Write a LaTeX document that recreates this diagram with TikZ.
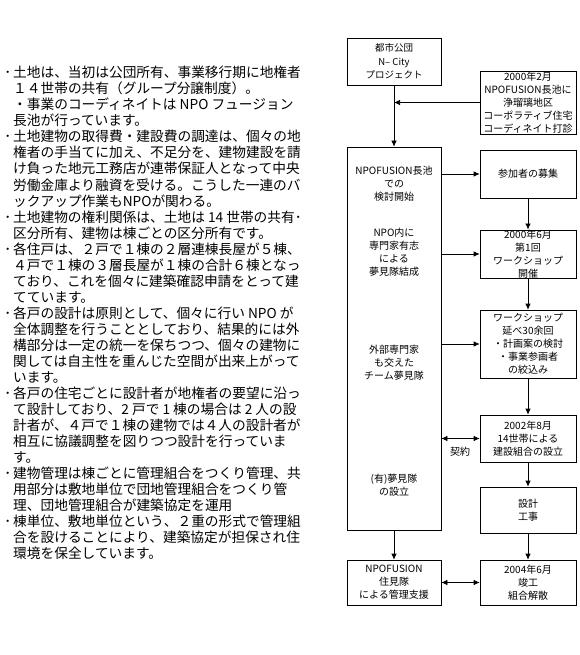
\documentclass[tikz,border=0pt]{standalone}
\usepackage{fontspec}
\setmainfont{Noto Sans CJK JP}
\usetikzlibrary{arrows.meta}
\newcommand\fs{\fontsize{10pt}{13pt}\selectfont}
\newcommand\fsa{\fontsize{9.5pt}{13.5pt}\selectfont}
\newcommand\ls{\fontsize{13.7pt}{16pt}\selectfont}
\newcommand\bl{\llap{･\hspace{2pt}}}
\tikzset{
  fbox/.style={draw, line width=0.7pt, inner sep=0pt, align=center, font=\fs},
  ftext/.style={inner sep=0pt, align=center, font=\fs},
  arr/.style={line width=0.7pt, -{Latex[length=6pt,width=5.5pt]}},
  darr/.style={line width=0.7pt, {Latex[length=6pt,width=5.5pt]}-{Latex[length=6pt,width=5.5pt]}},
  ltext/.style={anchor=base west, inner sep=0pt, font=\ls}
}
\begin{document}
\begin{tikzpicture}[x=1pt,y=-1pt]
\useasboundingbox (0,0) rectangle (580,655);
% left text
\foreach \t [count=\i] in {
{\bl 土地は、当初は公団所有、事業移行期に地権者},
{１４世帯の共有（グループ分譲制度）。},
{・事業のコーディネイトは NPO フュージョン},
{長池が行っています。},
{\bl 土地建物の取得費・建設費の調達は、個々の地},
{権者の手当てに加え、不足分を、建物建設を請},
{け負った地元工務店が連帯保証人となって中央},
{労働金庫より融資を受ける。こうした一連のバ},
{ックアップ作業もNPOが関わる。},
{\bl 土地建物の権利関係は、土地は 14 世帯の共有･},
{区分所有、建物は棟ごとの区分所有です。},
{\bl 各住戸は、２戸で１棟の２層連棟長屋が５棟、},
{４戸で１棟の３層長屋が１棟の合計６棟となっ},
{ており、これを個々に建築確認申請をとって建},
{てています。},
{\bl 各戸の設計は原則として、個々に行い NPO が},
{全体調整を行うこととしており、結果的には外},
{構部分は一定の統一を保ちつつ、個々の建物に},
{関しては自主性を重んじた空間が出来上がって},
{います。},
{\bl 各戸の住宅ごとに設計者が地権者の要望に沿っ},
{て設計しており、2 戸で 1 棟の場合は 2 人の設},
{計者が、４戸で１棟の建物では４人の設計者が},
{相互に協議調整を図りつつ設計を行っていま},
{す。},
{\bl 建物管理は棟ごとに管理組合をつくり管理、共},
{用部分は敷地単位で団地管理組合をつくり管},
{理、団地管理組合が建築協定を運用},
{\bl 棟単位、敷地単位という、２重の形式で管理組},
{合を設けることにより、建築協定が担保され住},
{環境を保全しています。}}
{\node[ltext] (L\i) at (13,{78+16*(\i-1)}) {\t};}
% flowchart boxes
\node[fbox, font=\fsa, minimum width=94pt, minimum height=47pt] (kodan) at (394,61.5) {都市公団\\N– City\\プロジェクト};
\node[fbox, minimum width=96pt, minimum height=63pt] (dakin) at (528,102.5) {2000年2月\\NPOFUSION長池に\\浄瑠璃地区\\コーポラティブ住宅\\コーディネイト打診};
\node[fbox, minimum width=94pt, minimum height=383pt] (big) at (394,338.5) {};
\node[ftext] (t1) at (394,184) {NPOFUSION長池\\での\\検討開始};
\node[ftext] (t2) at (394,252) {NPO内に\\専門家有志\\による\\夢見隊結成};
\node[ftext] (t3) at (394,363) {外部専門家\\も交えた\\チーム夢見隊};
\node[ftext] (t4) at (394,485) {(有)夢見隊\\の設立};
\node[fbox, minimum width=96pt, minimum height=48pt] (boshu) at (528,174) {参加者の募集};
\node[fbox, minimum width=96pt, minimum height=48pt] (ws1) at (528,254) {2000年6月\\第1回\\ワークショップ\\開催};
\node[fbox, minimum width=96pt, minimum height=68pt] (ws30) at (528,344) {ワークショップ\\延べ30余回\\・計画案の検討\\・事業参画者\\の絞込み};
\node[fbox, minimum width=96pt, minimum height=47pt] (kumiai) at (528,438.5) {2002年8月\\14世帯による\\建設組合の設立};
\node[fbox, minimum width=96pt, minimum height=46pt] (sekkei) at (528,510) {設計\\工事};
\node[fbox, minimum width=96pt, minimum height=45pt] (shunko) at (528,582.5) {2004年6月\\竣工\\組合解散};
\node[fbox, minimum width=94pt, minimum height=45pt] (kanri) at (394,582.5) {NPOFUSION\\住見隊\\による管理支援};
\node[ftext] (keiyaku) at (460,452) {契約};
% connectors
\coordinate (j) at (kodan.south |- dakin.west);
\draw[arr] (kodan.south) -- (big.north);
\draw[arr] (dakin.west) -- (j);
\draw[arr] (big.east |- boshu.west) -- (boshu.west);
\draw[arr] (big.east |- ws1.west) -- (ws1.west);
\draw[arr] (big.east |- ws30.west) -- (ws30.west);
\draw[darr] (big.east |- kumiai.west) -- (kumiai.west);
\draw[arr] (boshu.south) -- (ws1.north);
\draw[arr] (ws1.south) -- (ws30.north);
\draw[arr] (ws30.south) -- (kumiai.north);
\draw[arr] (kumiai.south) -- (sekkei.north);
\draw[arr] (sekkei.south) -- (shunko.north);
\draw[arr] (big.south) -- (kanri.north);
\draw[darr] (kanri.east) -- (shunko.west);
\end{tikzpicture}
\end{document}
